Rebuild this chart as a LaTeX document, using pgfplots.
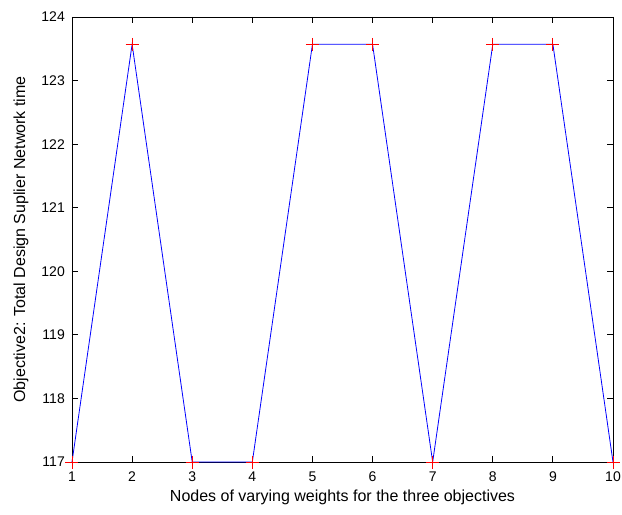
\documentclass[border=0pt]{standalone}
\usepackage{fontspec}
\setmainfont{Liberation Sans}
\usepackage{pgfplots}
\pgfplotsset{compat=1.18}
\begin{document}
\begin{tikzpicture}
\begin{axis}[
	scale only axis,
	width = 541pt,
	height = 445pt,
	xmin = 1, xmax = 10,
	ymin = 117, ymax = 124,
	xtick = {1,...,10},
	ytick = {117,...,124},
	tick align = inside,
	tick pos = both,
	major tick length = 6pt,
	axis line style = {black, line width=0.9pt},
	tick style = {black, line width=0.8pt},
	/pgf/number format/assume math mode=true,
	xlabel = {Nodes of varying weights for the three objectives},
	ylabel = {Objective2: Total Design Suplier Network time},
	xticklabel style = {anchor=center, yshift=-15pt},
	yticklabel style = {anchor=east, inner sep=0pt, xshift=-7pt},
	xlabel style = {at={(axis description cs:0.5,-0.0787)}, anchor=center},
	ylabel style = {at={(axis description cs:-0.0943,0.5)}, anchor=center},
	tick label style = {font=\fontsize{14}{16}\selectfont},
	label style = {font=\fontsize{16}{18}\selectfont},
	clip = false
	]
\addplot[blue, line width=0.8pt, mark = +, mark size = 6.5pt, mark options = {red, line width=0.8pt}] coordinates{
	(1, 117) (2, 123.57) (3, 117) (4, 117) (5, 123.57) (6, 123.57) (7, 117) (8, 123.57) (9, 123.57) (10, 117)};
\end{axis}
\pgfresetboundingbox
\path[use as bounding box] ([xshift=-72pt,yshift=-52pt]current axis.south west) rectangle ([xshift=9pt,yshift=17pt]current axis.north east);
\end{tikzpicture}
\end{document}
